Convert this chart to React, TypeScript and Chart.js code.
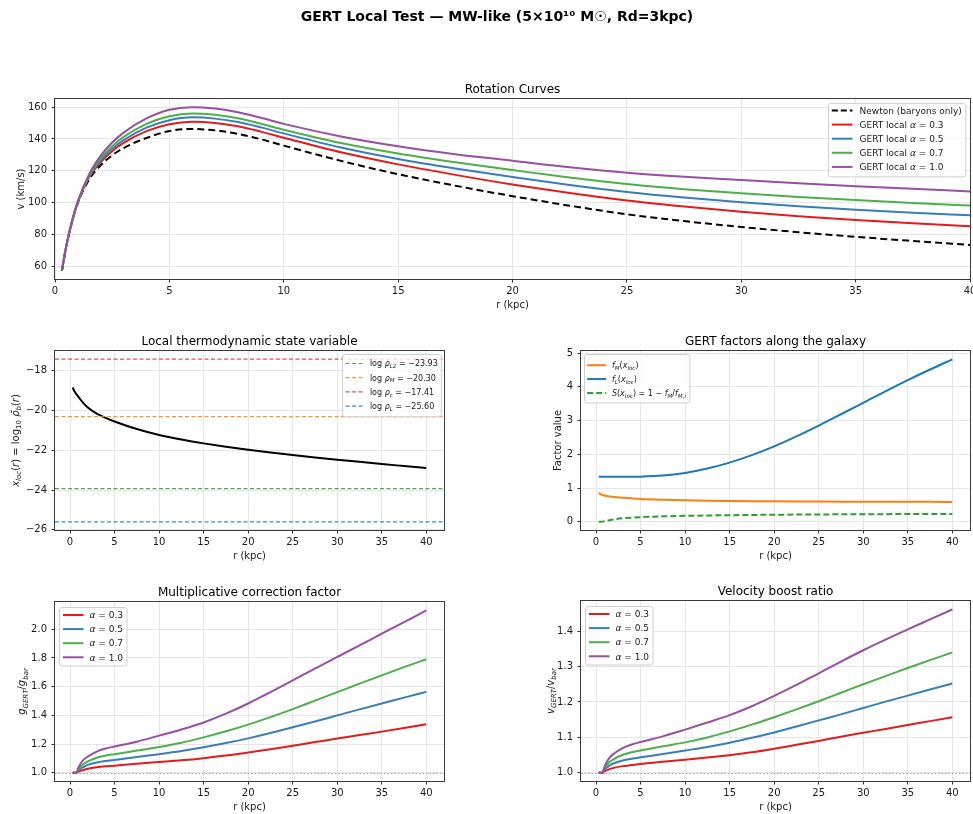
import React, { useEffect, useRef } from 'react';
import { Chart, registerables } from 'chart.js';

Chart.register(...registerables);

// ---------------- data ----------------
const R_ROT = [0.3, 0.5, 0.75, 1, 1.5, 2, 2.5, 3, 4, 5, 6, 7, 8, 9, 10, 12.5, 15, 17.5, 20, 22.5, 25, 27.5, 30, 32.5, 35, 37.5, 40];
const V_NEWTON = [57, 73, 88, 99.8, 114.6, 123.5, 129.7, 134.3, 140.6, 145, 146.3, 145.4, 143.2, 139.8, 135.8, 126.2, 117.8, 110.6, 104, 98, 92.6, 88.3, 84.6, 81.3, 78.4, 75.8, 73.3];
const V_A03 = [57, 73, 88.3, 100.2, 116, 125.5, 132.3, 137.5, 144.9, 149.3, 150.9, 150.1, 148, 144.6, 140.8, 131.6, 124, 117.4, 111.3, 106, 101.3, 97.5, 94.2, 91.4, 89, 86.9, 85];
const V_A05 = [57, 73, 88.4, 100.4, 116.6, 126.6, 133.8, 139.3, 147.1, 151.8, 153.6, 152.8, 150.7, 147.3, 143.5, 134.6, 127.4, 121.4, 116, 111, 106.6, 103.1, 100.2, 97.7, 95.5, 93.6, 91.9];
const V_A07 = [57, 73, 88.5, 100.6, 117.2, 127.8, 135.5, 141.3, 149.5, 154.3, 156, 155.2, 153, 149.6, 145.8, 137.4, 130.8, 125.3, 120.4, 115.7, 111.6, 108.4, 105.8, 103.5, 101.5, 99.7, 98.1];
const V_A10 = [57, 73, 88.6, 100.8, 118, 129.5, 137.8, 144, 152.9, 158.4, 160, 159.1, 156.8, 153.3, 149.5, 141.6, 135.4, 130.4, 126.3, 122.2, 118.8, 116.2, 114.1, 112.1, 110.3, 108.6, 107];

const R_PROFILE = [0.3, 0.5, 1, 1.5, 2, 3, 4, 5, 7.5, 10, 12.5, 15, 17.5, 20, 22.5, 25, 27.5, 30, 32.5, 35, 37.5, 40];
const X_LOC = [-18.84, -19.02, -19.34, -19.62, -19.84, -20.15, -20.37, -20.55, -20.93, -21.23, -21.46, -21.65, -21.82, -21.97, -22.11, -22.24, -22.36, -22.47, -22.58, -22.69, -22.79, -22.89];
const F_M = [0.864, 0.82, 0.776, 0.755, 0.737, 0.714, 0.696, 0.68, 0.656, 0.639, 0.628, 0.62, 0.613, 0.607, 0.603, 0.601, 0.599, 0.597, 0.595, 0.593, 0.592, 0.59];
const F_L = [1.333, 1.333, 1.333, 1.333, 1.333, 1.334, 1.335, 1.338, 1.37, 1.45, 1.58, 1.755, 1.975, 2.237, 2.532, 2.852, 3.187, 3.527, 3.867, 4.197, 4.512, 4.812];
const S_SUPP = [0, 0, 0.02, 0.05, 0.075, 0.105, 0.125, 0.14, 0.163, 0.178, 0.189, 0.198, 0.205, 0.211, 0.216, 0.22, 0.223, 0.226, 0.229, 0.232, 0.234, 0.236];

const THRESH_NAMES = ['L2', 'M', 'c', 'L'];
const THRESH_VALUES = [-23.93, -20.3, -17.41, -25.6];

const R_RATIO = [0.3, 0.5, 0.7, 1, 1.5, 2, 3, 4, 5, 7.5, 10, 12.5, 15, 17.5, 20, 22.5, 25, 27.5, 30, 32.5, 35, 37.5, 40];
const G_A03 = [1, 1, 1, 1.01, 1.02, 1.028, 1.038, 1.045, 1.05, 1.063, 1.075, 1.087, 1.102, 1.12, 1.141, 1.164, 1.189, 1.214, 1.239, 1.263, 1.287, 1.312, 1.338];
const G_A05 = [1, 1, 1, 1.02, 1.04, 1.055, 1.072, 1.082, 1.09, 1.11, 1.13, 1.152, 1.178, 1.207, 1.24, 1.277, 1.317, 1.358, 1.4, 1.442, 1.483, 1.524, 1.564];
const G_A07 = [1, 1, 1, 1.03, 1.06, 1.079, 1.105, 1.12, 1.13, 1.155, 1.18, 1.21, 1.247, 1.289, 1.336, 1.388, 1.444, 1.503, 1.562, 1.621, 1.679, 1.736, 1.791];
const G_A10 = [1, 1, 1, 1.044, 1.09, 1.113, 1.148, 1.169, 1.183, 1.217, 1.259, 1.302, 1.351, 1.412, 1.483, 1.562, 1.644, 1.726, 1.807, 1.888, 1.969, 2.05, 2.131];

const VR_A03 = [1, 1, 1, 1.005, 1.01, 1.014, 1.019, 1.022, 1.025, 1.031, 1.037, 1.043, 1.05, 1.058, 1.068, 1.079, 1.09, 1.102, 1.113, 1.124, 1.135, 1.146, 1.157];
const VR_A05 = [1, 1, 1, 1.01, 1.02, 1.027, 1.035, 1.04, 1.044, 1.053, 1.063, 1.073, 1.085, 1.099, 1.114, 1.131, 1.148, 1.165, 1.183, 1.201, 1.218, 1.235, 1.252];
const VR_A07 = [1, 1, 1, 1.015, 1.03, 1.039, 1.051, 1.058, 1.063, 1.075, 1.086, 1.1, 1.117, 1.136, 1.157, 1.179, 1.202, 1.226, 1.25, 1.273, 1.296, 1.318, 1.34];
const VR_A10 = [1, 1, 1, 1.02, 1.042, 1.054, 1.07, 1.08, 1.087, 1.103, 1.122, 1.142, 1.163, 1.188, 1.217, 1.248, 1.281, 1.314, 1.346, 1.376, 1.405, 1.433, 1.461];

const ALPHAS = ['0.3', '0.5', '0.7', '1.0'];

const R_TICKS = [0, 5, 10, 15, 20, 25, 30, 35, 40];
const V_TICKS = [60, 80, 100, 120, 140, 160];
const XLOC_TICKS = [-26, -24, -22, -20, -18];
const FACTOR_TICKS = [0, 1, 2, 3, 4, 5];
const G_TICKS = [1.0, 1.2, 1.4, 1.6, 1.8, 2.0];
const VR_TICKS = [1.0, 1.1, 1.2, 1.3, 1.4];

// ---------------- styling ----------------
const FONT = '"DejaVu Sans", "Liberation Sans", sans-serif';
const C_RED = '#e41a1c';
const C_BLUE = '#377eb8';
const C_GREEN = '#4daf4a';
const C_PURPLE = '#984ea3';
const ALPHA_COLORS = [C_RED, C_BLUE, C_GREEN, C_PURPLE];
const TAB_BLUE = '#1f77b4';
const TAB_ORANGE = '#ff7f0e';
const TAB_GREEN = '#2ca02c';
const THRESH_COLORS = ['rgba(44,160,44,0.85)', 'rgba(255,127,14,0.85)', 'rgba(214,39,40,0.8)', 'rgba(31,119,180,0.85)'];
const TEXT = '#1a1a1a';
const GRID = '#e6e6e6';
const Y_AXIS_W = 40;
const X_AXIS_H = 20;
const CANVAS_H = 814;

// ---------------- rich text ----------------
type Seg = { t: string; it?: boolean; sub?: boolean; b?: boolean };
const P = (t: string): Seg => ({ t });
const I = (t: string): Seg => ({ t, it: true });
const SI = (t: string): Seg => ({ t, it: true, sub: true });
const SU = (t: string): Seg => ({ t, sub: true });

function fontOf(s: Seg, size: number) {
  const sz = s.sub ? size * 0.7 : size;
  return `${s.it ? 'italic ' : ''}${s.b ? 'bold ' : ''}${sz}px ${FONT}`;
}
function measureRich(ctx: CanvasRenderingContext2D, segs: Seg[], size: number) {
  let w = 0;
  for (const s of segs) {
    ctx.font = fontOf(s, size);
    w += ctx.measureText(s.t).width;
  }
  return w;
}
function drawRich(ctx: CanvasRenderingContext2D, segs: Seg[], x: number, yMid: number, size: number, align: string, color: string) {
  const w = measureRich(ctx, segs, size);
  let cx = align === 'center' ? x - w / 2 : align === 'right' ? x - w : x;
  ctx.fillStyle = color;
  ctx.textAlign = 'left';
  ctx.textBaseline = 'alphabetic';
  const base = yMid + size * 0.36;
  for (const s of segs) {
    ctx.font = fontOf(s, size);
    ctx.fillText(s.t, cx, base + (s.sub ? size * 0.22 : 0));
    cx += ctx.measureText(s.t).width;
  }
}

// ---------------- legend ----------------
type LegItem = { color: string; dash?: number[]; width: number; label: Seg[] };
type LegendCfg = {
  corner: 'ur' | 'ul'; insetX: number; insetY: number; size: number; firstOff: number; rowH: number; lastOff: number;
  padL: number; handle: number; gap: number; padR: number; items: LegItem[];
};

function drawLegend(ctx: CanvasRenderingContext2D, a: any, L: LegendCfg) {
  let tw = 0;
  for (const it of L.items) tw = Math.max(tw, measureRich(ctx, it.label, L.size));
  const w = L.padL + L.handle + L.gap + tw + L.padR;
  const h = L.firstOff + (L.items.length - 1) * L.rowH + L.lastOff;
  const x0 = Math.round(L.corner === 'ur' ? a.right - L.insetX - w : a.left + L.insetX) + 0.5;
  const y0 = Math.round(a.top + L.insetY) + 0.5;
  ctx.save();
  ctx.beginPath();
  if ((ctx as any).roundRect) (ctx as any).roundRect(x0, y0, w, h, 2.5);
  else ctx.rect(x0, y0, w, h);
  ctx.fillStyle = 'rgba(255,255,255,0.8)';
  ctx.fill();
  ctx.strokeStyle = '#cfcfcf';
  ctx.lineWidth = 1;
  ctx.stroke();
  L.items.forEach((it, i) => {
    const y = y0 + L.firstOff + i * L.rowH;
    ctx.beginPath();
    ctx.setLineDash(it.dash || []);
    ctx.strokeStyle = it.color;
    ctx.lineWidth = it.width;
    ctx.moveTo(x0 + L.padL, y);
    ctx.lineTo(x0 + L.padL + L.handle, y);
    ctx.stroke();
    ctx.setLineDash([]);
    drawRich(ctx, it.label, x0 + L.padL + L.handle + L.gap, y, L.size, 'left', TEXT);
  });
  ctx.restore();
}

// ---------------- panels ----------------
type Area = { l: number; t: number; r: number; b: number };
type PanelCfg = {
  key: string; canvasW: number; area: Area;
  xMin: number; xMax: number; xTicks: number[];
  yMin: number; yMax: number; yTicks: number[]; yFmt: (v: number) => string;
  datasets: any[];
  title: string; xLabel: Seg[]; yLabel: Seg[]; yLabelX: number;
  legend: LegendCfg; refLine?: number; suptitle?: string;
};

function series(xs: number[], ys: number[], color: string, width: number, order: number, dash?: number[]) {
  return {
    data: xs.map((x, i) => ({ x, y: ys[i] })),
    borderColor: color,
    backgroundColor: color,
    borderWidth: width,
    borderDash: dash || [],
    pointRadius: 0,
    fill: false,
    cubicInterpolationMode: 'monotone',
    order,
  };
}

const X_MIN_AUTO = -1.685;
const X_MAX_AUTO = 41.985;

const minusFmt = (v: number) => (v < 0 ? '\u2212' + Math.abs(v) : String(v));
const oneDec = (v: number) => v.toFixed(1);
const plain = (v: number) => String(v);
const twoDec = (v: number) => (v < 0 ? '\u2212' : '') + Math.abs(v).toFixed(2);

const alphaLabel = (a: string, prefix?: string): Seg[] => (prefix ? [P(prefix), I('α'), P(' = ' + a)] : [I('α'), P(' = ' + a)]);

const bottomLegend = (): LegendCfg => ({
  corner: 'ul', insetX: 4.3, insetY: 5, size: 9, firstOff: 7.5, rowH: 14.1, lastOff: 8.7,
  padL: 3.4, handle: 20.6, gap: 6, padR: 4,
  items: ALPHAS.map((a, i) => ({ color: ALPHA_COLORS[i], width: 2, label: alphaLabel(a) })),
});

const RKPC: Seg[] = [P('r (kpc)')];

const PANELS: PanelCfg[] = [
  {
    key: 'rot', canvasW: 1010, area: { l: 55, t: 99, r: 970, b: 279 },
    xMin: 0, xMax: 40, xTicks: R_TICKS, yMin: 51.85, yMax: 165.15, yTicks: V_TICKS, yFmt: plain,
    datasets: [
      series(R_ROT, V_NEWTON, '#000000', 2, 4, [7, 4]),
      series(R_ROT, V_A03, C_RED, 2, 3),
      series(R_ROT, V_A05, C_BLUE, 2, 2),
      series(R_ROT, V_A07, C_GREEN, 2, 1),
      series(R_ROT, V_A10, C_PURPLE, 2, 0),
    ],
    title: 'Rotation Curves', xLabel: RKPC, yLabel: [P('v (km/s)')], yLabelX: 20,
    legend: {
      corner: 'ur', insetX: 4.3, insetY: 4.3, size: 9, firstOff: 7, rowH: 14.1, lastOff: 10,
      padL: 3.3, handle: 20.7, gap: 7, padR: 4,
      items: [
        { color: '#000000', dash: [6, 3], width: 2, label: [P('Newton (baryons only)')] },
        ...ALPHAS.map((a, i) => ({ color: ALPHA_COLORS[i], width: 2, label: alphaLabel(a, 'GERT local ') })),
      ],
    },
    suptitle: 'GERT Local Test \u2014 MW-like (5\u00d710\u00b9\u2070 M\u2609, Rd=3kpc)',
  },
  {
    key: 'xloc', canvasW: 973, area: { l: 55, t: 351, r: 444, b: 530 },
    xMin: X_MIN_AUTO, xMax: X_MAX_AUTO, xTicks: R_TICKS, yMin: -26.01, yMax: -17.0, yTicks: XLOC_TICKS, yFmt: minusFmt,
    datasets: [
      series(R_PROFILE, X_LOC, '#000000', 2, 5),
      ...THRESH_VALUES.map((v, i) =>
        series([X_MIN_AUTO, X_MAX_AUTO], [v, v], THRESH_COLORS[i], 1.2, i, [4, 2.5])),
    ],
    title: 'Local thermodynamic state variable', xLabel: RKPC,
    yLabel: [I('x'), SI('loc'), P('('), I('r'), P(') = log'), SU('10'), P(' '), I('\u03c1\u0304'), SI('b'), P('('), I('r'), P(')')],
    yLabelX: 15,
    legend: {
      corner: 'ur', insetX: 3.6, insetY: 3.3, size: 8, firstOff: 9, rowH: 14.2, lastOff: 10.7,
      padL: 3, handle: 19.4, gap: 5, padR: 3.5,
      items: THRESH_NAMES.map((n, i) => ({
        color: THRESH_COLORS[i], dash: [4, 2.5], width: 1.2,
        label: [P('log '), I('ρ'), SI(n.replace('2', '')), ...(n.includes('2') ? [SU('2')] : []), P(' = ' + twoDec(THRESH_VALUES[i]))],
      })),
    },
  },
  {
    key: 'fac', canvasW: 973, area: { l: 581, t: 351, r: 970, b: 530 },
    xMin: X_MIN_AUTO, xMax: X_MAX_AUTO, xTicks: R_TICKS, yMin: -0.241, yMax: 5.06, yTicks: FACTOR_TICKS, yFmt: plain,
    datasets: [
      series(R_PROFILE, F_M, TAB_ORANGE, 2, 2),
      series(R_PROFILE, F_L, TAB_BLUE, 2, 1),
      series(R_PROFILE, S_SUPP, TAB_GREEN, 2, 0, [6, 3]),
    ],
    title: 'GERT factors along the galaxy', xLabel: RKPC, yLabel: [P('Factor value')], yLabelX: 557,
    legend: {
      corner: 'ul', insetX: 3.4, insetY: 2.5, size: 8, firstOff: 10.7, rowH: 13.85, lastOff: 10,
      padL: 2.7, handle: 19, gap: 5.7, padR: 4,
      items: [
        { color: TAB_ORANGE, width: 2, label: [I('f'), SI('M'), P('('), I('x'), SI('loc'), P(')')] },
        { color: TAB_BLUE, width: 2, label: [I('f'), SI('L'), P('('), I('x'), SI('loc'), P(')')] },
        { color: TAB_GREEN, width: 2, dash: [6, 3], label: [I('S'), P('('), I('x'), SI('loc'), P(') = 1 \u2212 '), I('f'), SI('M'), P('/'), I('f'), SI('M,i')] },
      ],
    },
  },
  {
    key: 'g', canvasW: 973, area: { l: 55, t: 602, r: 444, b: 781 },
    xMin: X_MIN_AUTO, xMax: X_MAX_AUTO, xTicks: R_TICKS, yMin: 0.943, yMax: 2.19, yTicks: G_TICKS, yFmt: oneDec,
    datasets: [G_A03, G_A05, G_A07, G_A10].map((ys, i) => series(R_RATIO, ys, ALPHA_COLORS[i], 2, 3 - i)),
    title: 'Multiplicative correction factor', xLabel: RKPC,
    yLabel: [I('g'), SI('GERT'), P('/'), I('g'), SI('bar')], yLabelX: 21.7,
    legend: bottomLegend(), refLine: 1.0,
  },
  {
    key: 'vr', canvasW: 973, area: { l: 581, t: 601, r: 970, b: 781 },
    xMin: X_MIN_AUTO, xMax: X_MAX_AUTO, xTicks: R_TICKS, yMin: 0.977, yMax: 1.485, yTicks: VR_TICKS, yFmt: oneDec,
    datasets: [VR_A03, VR_A05, VR_A07, VR_A10].map((ys, i) => series(R_RATIO, ys, ALPHA_COLORS[i], 2, 3 - i)),
    title: 'Velocity boost ratio', xLabel: RKPC,
    yLabel: [I('v'), SI('GERT'), P('/'), I('v'), SI('bar')], yLabelX: 550,
    legend: bottomLegend(), refLine: 1.0,
  },
];

function decoPlugin(p: PanelCfg) {
  return {
    id: 'deco_' + p.key,
    beforeDatasetsDraw(chart: any) {
      if (p.refLine === undefined) return;
      const ctx: CanvasRenderingContext2D = chart.ctx;
      const a = chart.chartArea;
      const y = Math.round(chart.scales.y.getPixelForValue(p.refLine)) + 0.5;
      ctx.save();
      ctx.beginPath();
      ctx.setLineDash([1.5, 2]);
      ctx.strokeStyle = 'rgba(100,100,100,0.6)';
      ctx.lineWidth = 1;
      ctx.moveTo(a.left, y);
      ctx.lineTo(a.right, y);
      ctx.stroke();
      ctx.restore();
    },
    afterDatasetsDraw(chart: any) {
      const ctx: CanvasRenderingContext2D = chart.ctx;
      const a = chart.chartArea;
      ctx.save();
      ctx.setLineDash([]);
      ctx.strokeStyle = '#3a3a3a';
      ctx.lineWidth = 1;
      const l = Math.round(a.left) - 0.5;
      const t = Math.round(a.top) - 0.5;
      const r = Math.round(a.right) + 0.5;
      const b = Math.round(a.bottom) + 0.5;
      ctx.strokeRect(l, t, r - l, b - t);
      ctx.restore();
      drawLegend(ctx, a, p.legend);
    },
    afterDraw(chart: any) {
      const ctx: CanvasRenderingContext2D = chart.ctx;
      const a = chart.chartArea;
      ctx.save();
      const cx = (a.left + a.right) / 2;
      drawRich(ctx, [P(p.title)], cx, a.top - 10, 12, 'center', '#000');
      drawRich(ctx, p.xLabel, cx, a.bottom + 25, 10, 'center', TEXT);
      ctx.save();
      ctx.translate(p.yLabelX, (a.top + a.bottom) / 2);
      ctx.rotate(-Math.PI / 2);
      drawRich(ctx, p.yLabel, 0, 0, 10, 'center', TEXT);
      ctx.restore();
      if (p.suptitle) {
        ctx.fillStyle = '#000';
        ctx.font = `bold 14px ${FONT}`;
        ctx.textAlign = 'center';
        ctx.textBaseline = 'middle';
        ctx.fillText(p.suptitle, 497, 17);
      }
      ctx.restore();
    },
  };
}

function tickFont() {
  return { family: FONT, size: 10 };
}

function buildChart(canvas: HTMLCanvasElement, p: PanelCfg) {
  const a = p.area;
  const cfg: any = {
    type: 'line',
    data: { datasets: p.datasets },
    options: {
      responsive: false,
      maintainAspectRatio: false,
      animation: false,
      events: [],
      devicePixelRatio: 1,
      layout: {
        padding: {
          left: a.l - Y_AXIS_W,
          top: a.t,
          right: p.canvasW - a.r,
          bottom: CANVAS_H - a.b - X_AXIS_H,
        },
      },
      plugins: { legend: { display: false }, tooltip: { enabled: false }, title: { display: false } },
      elements: { point: { radius: 0 }, line: { tension: 0 } },
      scales: {
        x: {
          type: 'linear',
          min: p.xMin,
          max: p.xMax,
          afterBuildTicks: (s: any) => { s.ticks = p.xTicks.map((v) => ({ value: v })); },
          afterFit: (s: any) => { s.height = X_AXIS_H; },
          border: { display: false },
          grid: { color: GRID, lineWidth: 1, tickColor: '#333', tickLength: 3.5, tickWidth: 1 },
          ticks: { color: TEXT, font: tickFont(), padding: 3, maxRotation: 0, autoSkip: false, callback: (v: number) => plain(v) },
        },
        y: {
          type: 'linear',
          min: p.yMin,
          max: p.yMax,
          afterBuildTicks: (s: any) => { s.ticks = p.yTicks.map((v) => ({ value: v })); },
          afterFit: (s: any) => { s.width = Y_AXIS_W; },
          border: { display: false },
          grid: { color: GRID, lineWidth: 1, tickColor: '#333', tickLength: 3.5, tickWidth: 1 },
          ticks: { color: TEXT, font: tickFont(), padding: 4.5, autoSkip: false, callback: (v: number) => p.yFmt(v) },
        },
      },
    },
    plugins: [decoPlugin(p)],
  };
  return new Chart(canvas, cfg);
}

export default function App() {
  const canvases = useRef<(HTMLCanvasElement | null)[]>([]);
  useEffect(() => {
    const charts = PANELS.map((p, i) => buildChart(canvases.current[i] as HTMLCanvasElement, p));
    return () => charts.forEach((c) => c.destroy());
  }, []);
  return (
    <div style={{ position: 'absolute', left: 0, top: 0, width: 973, height: CANVAS_H, overflow: 'hidden', background: '#ffffff' }}>
      {PANELS.map((p, i) => (
        <canvas
          key={p.key}
          ref={(el) => { canvases.current[i] = el; }}
          width={p.canvasW}
          height={CANVAS_H}
          style={{ position: 'absolute', left: 0, top: 0, width: p.canvasW, height: CANVAS_H }}
        />
      ))}
    </div>
  );
}
